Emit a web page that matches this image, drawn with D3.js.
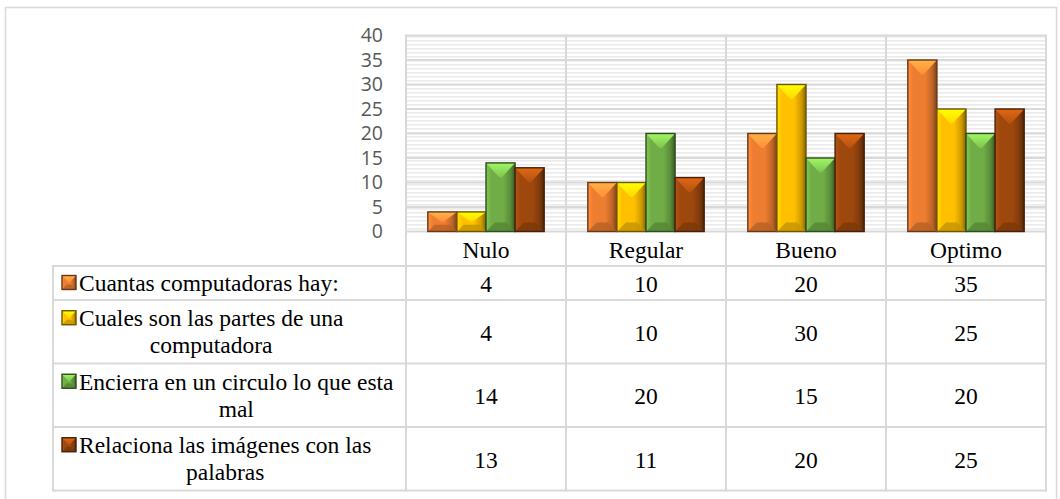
<!DOCTYPE html>
<html><head><meta charset="utf-8">
<script src="https://cdn.jsdelivr.net/npm/d3@7"></script>
<style>body{margin:0;background:#fff}svg{display:block}</style>
</head><body><svg id="c" width="1060" height="499"></svg>
<script>
const categories = ["Nulo", "Regular", "Bueno", "Optimo"];
const seriesNames = ["Cuantas computadoras hay:", "Cuales son las partes de una computadora", "Encierra en un circulo lo que esta mal", "Relaciona las imágenes con las palabras"];
const cuantas = [4, 10, 20, 35];
const cuales = [4, 10, 30, 25];
const encierra = [14, 20, 15, 20];
const relaciona = [13, 11, 20, 25];
const yTicks = [0, 5, 10, 15, 20, 25, 30, 35, 40];
const seriesColors = ["#ED7D31", "#FFC000", "#70AD47", "#9E480E"];
const seriesValues = [cuantas, cuales, encierra, relaciona];

const svg = d3.select("#c");
const plot = {left: 406, right: 1046, top: 35.5, bottom: 231.5};
const tableLeft = 53, tableTop = 266;
const grid = "#d9d9d9";
const serif = "'Liberation Serif','Times New Roman',serif";
const fontTable = 23.5;

const x0 = d3.scaleBand().domain(categories).range([plot.left, plot.right]).padding(0);
const x1 = d3.scaleBand().domain(d3.range(seriesNames.length)).range([0, x0.bandwidth()]).paddingInner(0).paddingOuter(0.75);
const y = d3.scaleLinear().domain([0, 40]).range([plot.bottom, plot.top]);

const defs = svg.append("defs");
const pat = defs.append("pattern").attr("id", "stripes").attr("patternUnits", "userSpaceOnUse")
  .attr("width", 8).attr("height", 4);
pat.append("rect").attr("width", 8).attr("height", 4).attr("fill", "#fff");
pat.append("rect").attr("y", 0).attr("width", 8).attr("height", 1.6).attr("fill", "#ebebeb");

seriesColors.forEach((c, i) => {
  const col = d3.color(c);
  const g = defs.append("linearGradient").attr("id", "face" + i).attr("x1", 0).attr("x2", 1).attr("y1", 0).attr("y2", 0);
  [[0, col.brighter(0.4)], [0.18, col], [0.6, col], [0.84, col.darker(0.6)], [1, col.darker(1.8)]]
    .forEach(([o, cc]) => g.append("stop").attr("offset", o).attr("stop-color", cc.formatHex()));
  const t = defs.append("linearGradient").attr("id", "top" + i).attr("x1", 0).attr("x2", 0).attr("y1", 0).attr("y2", 1);
  [[0, col.brighter(1.0)], [1, col.brighter(0.35)]]
    .forEach(([o, cc]) => t.append("stop").attr("offset", o).attr("stop-color", cc.formatHex()));
});

// outer frame
svg.append("rect").attr("x", 5.5).attr("y", 7.5).attr("width", 1051).attr("height", 500)
  .attr("fill", "none").attr("stroke", grid).attr("stroke-width", 1.5);

// plot background stripes
svg.append("rect").attr("x", plot.left).attr("y", plot.top).attr("width", plot.right - plot.left)
  .attr("height", plot.bottom - plot.top).attr("fill", "url(#stripes)");

// horizontal major gridlines
svg.append("g").selectAll("line").data(yTicks).join("line")
  .attr("x1", plot.left).attr("x2", plot.right).attr("y1", d => y(d)).attr("y2", d => y(d))
  .attr("stroke", grid).attr("stroke-width", 2);

// y axis labels
const yAxis = d3.axisLeft(y).tickValues(yTicks).tickSize(0).tickPadding(23);
const ya = svg.append("g").attr("transform", `translate(${plot.left},0)`).call(yAxis);
ya.select(".domain").remove();
ya.selectAll("text").attr("font-family", "'Open Sans', sans-serif").attr("font-size", 19.5)
  .attr("fill", "#595959");

// table rows computation (wrap names)
const maxTextW = 325;
const meas = svg.append("text").attr("font-family", serif).attr("font-size", fontTable).attr("visibility", "hidden");
function wrap(s) {
  const words = s.split(" "); const lines = []; let cur = "";
  words.forEach(w => {
    const test = cur ? cur + " " + w : w;
    meas.text(test);
    if (meas.node().getComputedTextLength() > maxTextW && cur) { lines.push(cur); cur = w; } else cur = test;
  });
  if (cur) lines.push(cur);
  return lines;
}
const lineH = 27;
const rows = seriesNames.map(wrap);
let yy = tableTop;
const rowBounds = rows.map(ls => { const h = ls.length * 29.5 + 4.5; const r = {y0: yy, y1: yy + h, lines: ls}; yy += h; return r; });
const tableBottom = yy;
meas.remove();

// vertical gridlines (category boundaries) spanning plot + table
const xs = categories.map(c => x0(c)).concat([plot.right]);
svg.append("g").selectAll("line").data(xs).join("line")
  .attr("x1", d => d).attr("x2", d => d).attr("y1", plot.top - 1).attr("y2", tableBottom + 1)
  .attr("stroke", grid).attr("stroke-width", 2);

// table horizontal lines
const hLines = [tableTop].concat(rowBounds.map(r => r.y1));
svg.append("g").selectAll("line").data(hLines).join("line")
  .attr("x1", tableLeft).attr("x2", plot.right + 1).attr("y1", d => d).attr("y2", d => d)
  .attr("stroke", grid).attr("stroke-width", 2);
svg.append("line").attr("x1", tableLeft).attr("x2", tableLeft).attr("y1", tableTop - 1).attr("y2", tableBottom + 1)
  .attr("stroke", grid).attr("stroke-width", 2);

// bevel bar drawing
function bevel(g, bx, by, bw, bh, i) {
  const col = d3.color(seriesColors[i]);
  const gg = g.append("g");
  gg.append("rect").attr("x", bx).attr("y", by).attr("width", bw).attr("height", bh).attr("fill", `url(#face${i})`);
  const t = Math.min(15, bh * 0.5, bw * 0.5);
  const bb = Math.min(9, bh * 0.35);
  const xm = bx + bw / 2;
  gg.append("path").attr("d", `M${bx},${by}L${bx + bw},${by}L${xm + bw * 0.04},${by + t}L${xm - bw * 0.04},${by + t}Z`)
    .attr("fill", `url(#top${i})`);
  gg.append("path").attr("d", `M${bx},${by + bh}L${bx + bw},${by + bh}L${bx + bw - bb},${by + bh - bb}L${bx + bb},${by + bh - bb}Z`)
    .attr("fill", col.darker(0.7).formatHex()).attr("opacity", 0.85);
  gg.append("rect").attr("x", bx).attr("y", by).attr("width", bw).attr("height", bh)
    .attr("fill", "none").attr("stroke", col.darker(2.3).formatHex()).attr("stroke-width", 1.4);
}

// bars
const barsG = svg.append("g");
categories.forEach((c, ci) => {
  seriesValues.forEach((vals, si) => {
    const bx = x0(c) + x1(si);
    const v = vals[ci];
    bevel(barsG, bx, y(v), x1.bandwidth(), y(0) - y(v), si);
  });
});

// category labels row
svg.append("g").selectAll("text").data(categories).join("text")
  .attr("x", d => x0(d) + x0.bandwidth() / 2).attr("y", (plot.bottom + tableTop) / 2 + 1)
  .attr("dy", "0.35em").attr("text-anchor", "middle")
  .attr("font-family", serif).attr("font-size", fontTable).attr("fill", "#000").text(d => d);

// legend column
const legG = svg.append("g");
rowBounds.forEach((r, i) => {
  const cy = (r.y0 + r.y1) / 2;
  const n = r.lines.length;
  const firstY = cy - (n - 1) * lineH / 2;
  const tx = 79;
  const tmp = legG.append("g");
  const texts = r.lines.map((ln, k) => tmp.append("text").attr("y", firstY + k * lineH).attr("dy", "0.35em")
    .attr("font-family", serif).attr("font-size", fontTable).attr("fill", "#000").text(ln));
  const maxW = d3.max(texts, t => t.node().getComputedTextLength());
  texts.forEach(t => t.attr("x", tx + maxW / 2).attr("text-anchor", "middle"));
  bevel(legG, 62, firstY - 7.5, 14, 14, i);
  categories.forEach((c, ci) => {
    legG.append("text").attr("x", x0(c) + x0.bandwidth() / 2).attr("y", cy + 1).attr("dy", "0.35em")
      .attr("text-anchor", "middle").attr("font-family", serif).attr("font-size", fontTable).attr("fill", "#000")
      .text(seriesValues[i][ci]);
  });
});
</script></body></html>
